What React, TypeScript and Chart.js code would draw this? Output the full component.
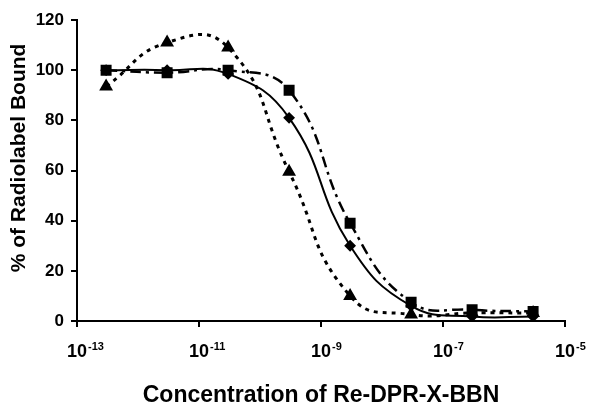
import React, { useEffect, useRef } from "react";
import { Chart, registerables } from "chart.js";

Chart.register(...registerables);

const concentrations = [3e-13, 3e-12, 3e-11, 3e-10, 3e-9, 3e-8, 3e-7, 3e-6];
const squareBound = [100, 99, 100, 92, 39, 7.5, 4.5, 3.8];
const diamondBound = [100, 100, 98.5, 81, 30, 6, 1.8, 1.8];
const triangleBound = [93.5, 111, 109, 59.5, 10, 2.6, 3.2, 3.2];

const xTickValues = [1e-13, 1e-11, 1e-9, 1e-7, 1e-5];
const xTickBase = "10";
const xTickExponents = ["-13", "-11", "-9", "-7", "-5"];

const xTitle = "Concentration of Re-DPR-X-BBN";
const yTitle = "% of Radiolabel Bound";

const FONT = "'Liberation Sans', Arial, sans-serif";

function pts(vals: number[]) {
  return concentrations.map((x, i) => ({ x, y: vals[i] }));
}

const customText = {
  id: "customText",
  afterDraw(chart: any) {
    const xs = chart.scales.x;
    const ys = chart.scales.y;
    const ctx = chart.ctx;
    ctx.save();
    ctx.fillStyle = "#000";
    ctx.textBaseline = "alphabetic";
    const baseY = xs.top + 36;
    xTickValues.forEach((v, i) => {
      const px = xs.getPixelForValue(v);
      ctx.font = `bold 18px ${FONT}`;
      const w = ctx.measureText(xTickBase).width;
      ctx.textAlign = "left";
      ctx.fillText(xTickBase, px - w / 2, baseY);
      ctx.font = `bold 11px ${FONT}`;
      ctx.fillText(xTickExponents[i], px + w / 2 + 1, baseY - 7);
    });
    // y-axis title
    const cy = ys.getPixelForValue(65);
    ctx.translate(19, cy);
    ctx.rotate(-Math.PI / 2);
    ctx.font = `bold 21px ${FONT}`;
    ctx.textAlign = "center";
    ctx.textBaseline = "middle";
    ctx.fillText(yTitle, 0, 0);
    ctx.restore();
  },
};

export default function App() {
  const ref = useRef<HTMLCanvasElement | null>(null);
  useEffect(() => {
    if (!ref.current) return;
    Chart.defaults.font.family = FONT;
    const chart = new Chart(ref.current, {
      type: "line",
      data: {
        datasets: [
          {
            label: "triangle",
            data: pts(triangleBound),
            borderColor: "#000",
            backgroundColor: "#000",
            borderWidth: 3,
            borderDash: [4, 5],
            pointStyle: "triangle",
            pointRadius: 5,
            tension: 0.5,
          },
          {
            label: "square",
            data: pts(squareBound),
            borderColor: "#000",
            backgroundColor: "#000",
            borderWidth: 2.5,
            borderDash: [11, 5, 3, 5],
            pointStyle: "rect",
            pointRadius: 6,
            tension: 0.45,
          },
          {
            label: "diamond",
            data: pts(diamondBound),
            borderColor: "#000",
            backgroundColor: "#000",
            borderWidth: 2,
            pointStyle: "rectRot",
            pointRadius: 4.5,
            tension: 0.45,
          },
        ],
      },
      plugins: [customText],
      options: {
        animation: false,
        responsive: true,
        maintainAspectRatio: false,
        layout: { padding: { top: 20, right: 27, left: 0, bottom: 0 } },
        plugins: { legend: { display: false }, tooltip: { enabled: false } },
        scales: {
          x: {
            type: "logarithmic",
            min: 1e-13,
            max: 1e-5,
            afterBuildTicks: (s: any) => {
              s.ticks = xTickValues.map((v) => ({ value: v }));
            },
            afterFit: (s: any) => {
              s.height = 84;
            },
            ticks: {
              autoSkip: false,
              maxRotation: 0,
              color: "#000",
              padding: 10,
              font: { size: 17, weight: "bold", family: FONT },
              callback: () => "",
            },
            grid: { drawOnChartArea: false, drawTicks: true, tickLength: 6, color: "#000", lineWidth: 2 },
            border: { display: true, color: "#000", width: 2 },
            title: {
              display: true,
              text: xTitle,
              color: "#000",
              font: { size: 23, weight: "bold", family: FONT },
              padding: { top: 40, bottom: -4 },
            },
          },
          y: {
            min: 0,
            max: 120,
            afterFit: (s: any) => {
              s.width = 77;
            },
            ticks: {
              stepSize: 20,
              color: "#000",
              padding: 7,
              font: { size: 17, weight: "bold", family: FONT },
            },
            grid: { drawOnChartArea: false, drawTicks: true, tickLength: 6, color: "#000", lineWidth: 2 },
            border: { display: true, color: "#000", width: 2 },
            title: { display: false, text: yTitle },
          },
        },
      },
    });
    return () => chart.destroy();
  }, []);
  return (
    <div style={{ position: "absolute", left: 0, top: 0, width: 592, height: 405, background: "#fff" }}>
      <canvas ref={ref} />
    </div>
  );
}
